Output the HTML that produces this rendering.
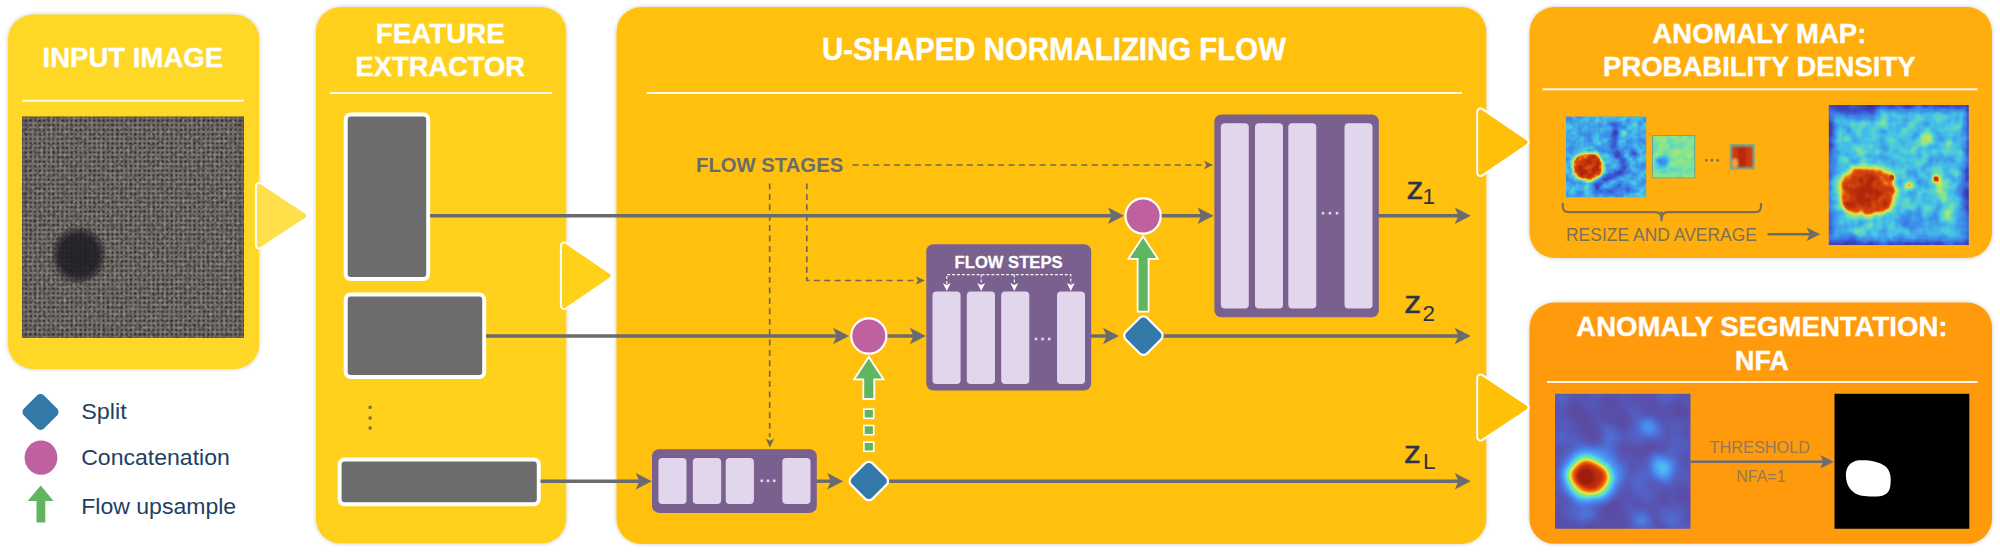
<!DOCTYPE html>
<html lang="en"><head><meta charset="utf-8"><title>U-Flow architecture</title>
<style>
html,body{margin:0;padding:0;background:#fff;}
body{width:2000px;height:553px;overflow:hidden;font-family:'Liberation Sans', Arial, Helvetica, sans-serif;}
svg{display:block;font-family:'Liberation Sans', Arial, Helvetica, sans-serif;}
</style></head><body>
<svg width="2000" height="553" viewBox="0 0 2000 553">
<defs>
<filter id="sh" x="-5%" y="-5%" width="110%" height="110%"><feGaussianBlur in="SourceAlpha" stdDeviation="2.2"/><feComponentTransfer><feFuncA type="linear" slope="0.22"/></feComponentTransfer><feMerge><feMergeNode/><feMergeNode in="SourceGraphic"/></feMerge></filter>
<filter id="b2"><feGaussianBlur stdDeviation="2"/></filter>
<filter id="b1"><feGaussianBlur stdDeviation="1"/></filter>
<filter id="b3"><feGaussianBlur stdDeviation="3.2"/></filter>
<filter id="b4"><feGaussianBlur stdDeviation="4.2"/></filter>
<filter id="b5"><feGaussianBlur stdDeviation="5"/></filter>
<filter id="b8"><feGaussianBlur stdDeviation="8"/></filter>

<filter id="jetA" x="0" y="0" width="100%" height="100%" color-interpolation-filters="sRGB">
<feTurbulence type="fractalNoise" baseFrequency="0.09" numOctaves="2" seed="3" result="n"/>
<feColorMatrix in="n" type="matrix" values="1 0 0 0 0  1 0 0 0 0  1 0 0 0 0  0 0 0 0 1" result="ng"/>
<feComposite in="SourceGraphic" in2="ng" operator="arithmetic" k1="0" k2="1" k3="0.34" k4="-0.17" result="f"/>
<feComponentTransfer in="f">
<feFuncR type="table" tableValues="0.23 0.235 0.24 0.243 0.275 0.51 0.95 0.88 0.69"/>
<feFuncG type="table" tableValues="0.20 0.275 0.45 0.58 0.78 0.90 0.88 0.30 0.157"/>
<feFuncB type="table" tableValues="0.59 0.745 0.89 0.925 0.90 0.59 0.235 0.06 0.04"/>
<feFuncA type="linear" slope="0" intercept="1"/>
</feComponentTransfer>
</filter>
<filter id="jetB" x="0" y="0" width="100%" height="100%" color-interpolation-filters="sRGB">
<feTurbulence type="fractalNoise" baseFrequency="0.13" numOctaves="2" seed="11" result="n"/>
<feColorMatrix in="n" type="matrix" values="1 0 0 0 0  1 0 0 0 0  1 0 0 0 0  0 0 0 0 1" result="ng"/>
<feComposite in="SourceGraphic" in2="ng" operator="arithmetic" k1="0" k2="1" k3="0.36" k4="-0.18" result="f"/>
<feComponentTransfer in="f">
<feFuncR type="table" tableValues="0.23 0.235 0.24 0.243 0.275 0.51 0.95 0.88 0.69"/>
<feFuncG type="table" tableValues="0.20 0.275 0.45 0.58 0.78 0.90 0.88 0.30 0.157"/>
<feFuncB type="table" tableValues="0.59 0.745 0.89 0.925 0.90 0.59 0.235 0.06 0.04"/>
<feFuncA type="linear" slope="0" intercept="1"/>
</feComponentTransfer>
</filter>
<filter id="jetC" x="0" y="0" width="100%" height="100%" color-interpolation-filters="sRGB">
<feTurbulence type="fractalNoise" baseFrequency="0.12" numOctaves="2" seed="5" result="n"/>
<feColorMatrix in="n" type="matrix" values="1 0 0 0 0  1 0 0 0 0  1 0 0 0 0  0 0 0 0 1" result="ng"/>
<feComposite in="SourceGraphic" in2="ng" operator="arithmetic" k1="0" k2="1" k3="0.22" k4="-0.11" result="f"/>
<feComponentTransfer in="f">
<feFuncR type="table" tableValues="0.23 0.235 0.24 0.243 0.275 0.51 0.95 0.88 0.69"/>
<feFuncG type="table" tableValues="0.20 0.275 0.45 0.58 0.78 0.90 0.88 0.30 0.157"/>
<feFuncB type="table" tableValues="0.59 0.745 0.89 0.925 0.90 0.59 0.235 0.06 0.04"/>
<feFuncA type="linear" slope="0" intercept="1"/>
</feComponentTransfer>
</filter>
<filter id="nfa" x="0" y="0" width="100%" height="100%" color-interpolation-filters="sRGB">
<feTurbulence type="fractalNoise" baseFrequency="0.035" numOctaves="2" seed="21" result="n"/>
<feColorMatrix in="n" type="matrix" values="1 0 0 0 0  1 0 0 0 0  1 0 0 0 0  0 0 0 0 1" result="ng"/>
<feComposite in="SourceGraphic" in2="ng" operator="arithmetic" k1="0" k2="1" k3="0.26" k4="-0.13" result="f"/>
<feComponentTransfer in="f">
<feFuncR type="table" tableValues="0.36 0.35 0.32 0.29 0.30 0.32 0.50 0.98 0.94 0.80 0.62"/>
<feFuncG type="table" tableValues="0.28 0.31 0.40 0.52 0.66 0.86 0.92 0.90 0.42 0.20 0.11"/>
<feFuncB type="table" tableValues="0.60 0.67 0.80 0.92 0.97 0.90 0.50 0.20 0.08 0.05 0.05"/>
<feFuncA type="linear" slope="0" intercept="1"/>
</feComponentTransfer>
</filter>
<pattern id="weave" width="9.1" height="9.1" patternUnits="userSpaceOnUse" patternTransform="translate(22 116.5)">
<rect width="9.1" height="9.1" fill="#7b7571"/>
<rect x="0.3" y="1.2" width="3.4" height="1.3" fill="#8f8985"/>
<rect x="4.85" y="5.75" width="3.4" height="1.3" fill="#8f8985"/>
<rect x="5.75" y="0.3" width="1.3" height="3.4" fill="#8c8682"/>
<rect x="1.2" y="4.85" width="1.3" height="3.4" fill="#8c8682"/>
<g fill="#2c2826"><rect x="3.15" y="3.15" width="1.9" height="1.9"/><rect x="7.7" y="3.15" width="1.9" height="1.9"/><rect x="-1.4" y="3.15" width="1.9" height="1.9"/><rect x="3.15" y="7.7" width="1.9" height="1.9"/><rect x="3.15" y="-1.4" width="1.9" height="1.9"/><rect x="7.7" y="7.7" width="1.9" height="1.9"/><rect x="-1.4" y="7.7" width="1.9" height="1.9"/><rect x="7.7" y="-1.4" width="1.9" height="1.9"/><rect x="-1.4" y="-1.4" width="1.9" height="1.9"/></g>
</pattern>
<filter id="fab" x="0" y="0" width="100%" height="100%" color-interpolation-filters="sRGB">
<feTurbulence type="fractalNoise" baseFrequency="0.3" numOctaves="2" seed="4" result="n"/>
<feColorMatrix in="n" type="matrix" values="1 0 0 0 0  1 0 0 0 0  1 0 0 0 0  0 0 0 0 1" result="ng"/>
<feComposite in="SourceGraphic" in2="ng" operator="arithmetic" k1="0.7" k2="0.68" k3="0.1" k4="-0.05"/>
<feGaussianBlur stdDeviation="0.5"/>
</filter>
<radialGradient id="spot"><stop offset="0" stop-color="#1c1c22" stop-opacity="0.9"/><stop offset="0.68" stop-color="#1c1c22" stop-opacity="0.85"/><stop offset="0.88" stop-color="#222" stop-opacity="0.42"/><stop offset="1" stop-color="#222" stop-opacity="0"/></radialGradient>
<clipPath id="cIn"><rect x="22" y="116.5" width="222" height="221.5"/></clipPath>
<clipPath id="cH1"><rect x="1566" y="116.6" width="80.2" height="80.6"/></clipPath>
<clipPath id="cH2"><rect x="1652" y="135.2" width="43.2" height="43"/></clipPath>
<clipPath id="cH3"><rect x="1729.6" y="144" width="25.2" height="25.6"/></clipPath>
<clipPath id="cH4"><rect x="1828.8" y="105" width="140" height="140"/></clipPath>
<clipPath id="cH5"><rect x="1555" y="393.75" width="135.5" height="135"/></clipPath>
</defs>

<g filter="url(#sh)">
<rect x="8" y="14.5" width="251.3" height="354.5" rx="25" ry="25" fill="#ffd726" />
<rect x="315.8" y="7" width="250.5" height="536.6" rx="25" ry="25" fill="#ffd11b" />
<rect x="616.5" y="7" width="869.8" height="537" rx="25" ry="25" fill="#ffc107" />
<rect x="1529.5" y="7" width="462.5" height="251" rx="25" ry="25" fill="#ffae0a" />
<rect x="1529.5" y="302.5" width="462.5" height="241.3" rx="25" ry="25" fill="#ff9a0a" />
</g>
<path d="M259.30 186.30 L303.80 215.70 L259.30 245.10 Z" fill="#fff" stroke="#fff" stroke-width="8.8" stroke-linejoin="round"/><path d="M259.30 186.30 L303.80 215.70 L259.30 245.10 Z" fill="#ffdf4a" stroke="#ffdf4a" stroke-width="4.8" stroke-linejoin="round"/>
<path d="M564.30 245.90 L608.00 275.75 L564.30 305.60 Z" fill="#fff" stroke="#fff" stroke-width="8.8" stroke-linejoin="round"/><path d="M564.30 245.90 L608.00 275.75 L564.30 305.60 Z" fill="#ffd11b" stroke="#ffd11b" stroke-width="4.8" stroke-linejoin="round"/>
<path d="M1480.60 111.90 L1525.10 142.25 L1480.60 172.60 Z" fill="#fff" stroke="#fff" stroke-width="8.8" stroke-linejoin="round"/><path d="M1480.60 111.90 L1525.10 142.25 L1480.60 172.60 Z" fill="#ffc107" stroke="#ffc107" stroke-width="4.8" stroke-linejoin="round"/>
<path d="M1480.60 377.90 L1525.10 407.50 L1480.60 437.10 Z" fill="#fff" stroke="#fff" stroke-width="8.8" stroke-linejoin="round"/><path d="M1480.60 377.90 L1525.10 407.50 L1480.60 437.10 Z" fill="#ffc107" stroke="#ffc107" stroke-width="4.8" stroke-linejoin="round"/>
<line x1="22.5" y1="100.7" x2="243.8" y2="100.7" stroke="#fff" stroke-width="1.9" opacity="0.92"/>
<line x1="330" y1="93" x2="551.8" y2="93" stroke="#fff" stroke-width="1.9" opacity="0.92"/>
<line x1="646.8" y1="93" x2="1462" y2="93" stroke="#fff" stroke-width="1.9" opacity="0.92"/>
<line x1="1542.5" y1="89.3" x2="1977.5" y2="89.3" stroke="#fff" stroke-width="1.9" opacity="0.92"/>
<line x1="1547" y1="382" x2="1977.5" y2="382" stroke="#fff" stroke-width="1.9" opacity="0.92"/>
<text x="132.8" y="67.4" font-size="28.46" font-weight="700" text-anchor="middle" fill="#fff" stroke="#fff" stroke-width="0.35" textLength="180.5" lengthAdjust="spacingAndGlyphs">INPUT IMAGE</text>
<text x="440.3" y="42.6" font-size="28.46" font-weight="700" text-anchor="middle" fill="#fff" stroke="#fff" stroke-width="0.35" textLength="129" lengthAdjust="spacingAndGlyphs">FEATURE</text>
<text x="440.3" y="76.2" font-size="28.46" font-weight="700" text-anchor="middle" fill="#fff" stroke="#fff" stroke-width="0.35" textLength="169.5" lengthAdjust="spacingAndGlyphs">EXTRACTOR</text>
<text x="1053.9" y="60" font-size="30.43" font-weight="700" text-anchor="middle" fill="#fff" stroke="#fff" stroke-width="0.35" textLength="464" lengthAdjust="spacingAndGlyphs">U-SHAPED NORMALIZING FLOW</text>
<text x="1759.4" y="43" font-size="28.46" font-weight="700" text-anchor="middle" fill="#fff" stroke="#fff" stroke-width="0.35" textLength="213.8" lengthAdjust="spacingAndGlyphs">ANOMALY MAP:</text>
<text x="1759.3" y="75.8" font-size="28.46" font-weight="700" text-anchor="middle" fill="#fff" stroke="#fff" stroke-width="0.35" textLength="312.5" lengthAdjust="spacingAndGlyphs">PROBABILITY DENSITY</text>
<text x="1761.9" y="336.3" font-size="28.46" font-weight="700" text-anchor="middle" fill="#fff" stroke="#fff" stroke-width="0.35" textLength="371.3" lengthAdjust="spacingAndGlyphs">ANOMALY SEGMENTATION:</text>
<text x="1761.9" y="369.5" font-size="28.46" font-weight="700" text-anchor="middle" fill="#fff" stroke="#fff" stroke-width="0.35" textLength="53.8" lengthAdjust="spacingAndGlyphs">NFA</text>
<g clip-path="url(#cIn)">
<g filter="url(#fab)"><rect x="22" y="116.5" width="222" height="221.5" fill="url(#weave)"/></g>
<rect x="22" y="116.5" width="222" height="221.5" fill="#2a2626" opacity="0.2"/>
<ellipse cx="78.7" cy="255.2" rx="28.6" ry="30" fill="url(#spot)"/>
<rect x="14" y="108" width="238" height="238" fill="none" stroke="#201c1c" stroke-width="14" opacity="0.35" filter="url(#b5)"/>
</g>
<rect x="26.3" y="397.8" width="28.4" height="28.4" rx="5" ry="5" fill="#337aa9" transform="rotate(45 40.5 412)"/>
<ellipse cx="41" cy="457.6" rx="16.4" ry="17.2" fill="#c0619f"/>
<path d="M40.7 485.6 L53.6 501 L45.3 501 L45.3 522.6 L36.5 522.6 L36.5 501 L27.7 501 Z" fill="#62b560"/>
<text x="81.2" y="418.8" font-size="22.9" fill="#1d4163" textLength="45.5" lengthAdjust="spacingAndGlyphs">Split</text>
<text x="81.2" y="465.1" font-size="22.9" fill="#1d4163" textLength="148.6" lengthAdjust="spacingAndGlyphs">Concatenation</text>
<text x="81.2" y="514.0" font-size="22.9" fill="#1d4163" textLength="155" lengthAdjust="spacingAndGlyphs">Flow upsample</text>
<rect x="345.7" y="114.5" width="82.5" height="164.5" rx="5" ry="5" fill="#6c6c6c" stroke="#fff" stroke-width="4"/>
<rect x="345.7" y="294.5" width="138.5" height="82.5" rx="5" ry="5" fill="#6c6c6c" stroke="#fff" stroke-width="4"/>
<rect x="339.6" y="459.5" width="199.19999999999993" height="44.80000000000001" rx="5" ry="5" fill="#6c6c6c" stroke="#fff" stroke-width="4"/>
<rect x="368.6" y="405.8" width="3" height="3" fill="#7a6a3a"/>
<rect x="368.6" y="416.5" width="3" height="3" fill="#7a6a3a"/>
<rect x="368.6" y="426.5" width="3" height="3" fill="#7a6a3a"/>
<path d="M852.5 165 H1203" stroke="#6f6a58" stroke-width="1.7" fill="none" stroke-dasharray="6 4.4"/>
<path d="M769.7 183.5 V437" stroke="#6f6a58" stroke-width="1.7" fill="none" stroke-dasharray="6 4.4"/>
<path d="M806.8 183.5 V280.5 H916" stroke="#6f6a58" stroke-width="1.7" fill="none" stroke-dasharray="6 4.4"/>
<path d="M1213 165 L1204 160.75 L1206.2 165 L1204 169.25 Z" fill="#6f6a58"/>
<path d="M924.8 280.5 L915.8 276.25 L918.0 280.5 L915.8 284.75 Z" fill="#6f6a58"/>
<path d="M769.9 447.6 L765.65 438.6 L769.9 440.8 L774.15 438.6 Z" fill="#6f6a58"/>
<text x="696" y="171.8" font-size="20.2" font-weight="700" fill="#6a6b6e" textLength="147.2" lengthAdjust="spacingAndGlyphs">FLOW STAGES</text>
<line x1="430" y1="215.7" x2="1112.6" y2="215.7" stroke="#6a6b6e" stroke-width="3.4"/><path d="M1124 215.7 L1108 207.5 L1111.6 215.7 L1108 223.89999999999998 Z" fill="#6a6b6e"/>
<line x1="1161" y1="215.7" x2="1202.1999999999998" y2="215.7" stroke="#6a6b6e" stroke-width="3.4"/><path d="M1213.6 215.7 L1197.6 207.5 L1201.1999999999998 215.7 L1197.6 223.89999999999998 Z" fill="#6a6b6e"/>
<line x1="1378" y1="215.7" x2="1459.3999999999999" y2="215.7" stroke="#6a6b6e" stroke-width="3.4"/><path d="M1470.8 215.7 L1454.8 207.5 L1458.3999999999999 215.7 L1454.8 223.89999999999998 Z" fill="#6a6b6e"/>
<line x1="486" y1="336" x2="837.6" y2="336" stroke="#6a6b6e" stroke-width="3.4"/><path d="M849 336 L833 327.8 L836.6 336 L833 344.2 Z" fill="#6a6b6e"/>
<line x1="887" y1="336" x2="914.4" y2="336" stroke="#6a6b6e" stroke-width="3.4"/><path d="M925.8 336 L909.8 327.8 L913.4 336 L909.8 344.2 Z" fill="#6a6b6e"/>
<line x1="1090" y1="336" x2="1107.6" y2="336" stroke="#6a6b6e" stroke-width="3.4"/><path d="M1119 336 L1103 327.8 L1106.6 336 L1103 344.2 Z" fill="#6a6b6e"/>
<line x1="1163" y1="336" x2="1459.3999999999999" y2="336" stroke="#6a6b6e" stroke-width="3.4"/><path d="M1470.8 336 L1454.8 327.8 L1458.3999999999999 336 L1454.8 344.2 Z" fill="#6a6b6e"/>
<line x1="540.5" y1="481.2" x2="640.4" y2="481.2" stroke="#6a6b6e" stroke-width="3.4"/><path d="M651.8 481.2 L635.8 473.0 L639.4 481.2 L635.8 489.4 Z" fill="#6a6b6e"/>
<line x1="816" y1="481.2" x2="831.8000000000001" y2="481.2" stroke="#6a6b6e" stroke-width="3.4"/><path d="M843.2 481.2 L827.2 473.0 L830.8000000000001 481.2 L827.2 489.4 Z" fill="#6a6b6e"/>
<line x1="889" y1="481.2" x2="1459.3999999999999" y2="481.2" stroke="#6a6b6e" stroke-width="3.4"/><path d="M1470.8 481.2 L1454.8 473.0 L1458.3999999999999 481.2 L1454.8 489.4 Z" fill="#6a6b6e"/>
<rect x="1214.4" y="114.5" width="164.4" height="202.8" rx="7" ry="7" fill="#79608f" /><rect x="1220.8" y="123.2" width="28.0" height="185.3" rx="4" ry="4" fill="#e2d6ec" /><rect x="1255" y="123.2" width="28" height="185.3" rx="4" ry="4" fill="#e2d6ec" /><rect x="1288.3" y="123.2" width="28.0" height="185.3" rx="4" ry="4" fill="#e2d6ec" /><rect x="1344.5" y="123.2" width="28.0" height="185.3" rx="4" ry="4" fill="#e2d6ec" /><rect x="1321.7" y="211.89999999999998" width="2.6" height="2.6" fill="#e2d6ec"/><rect x="1328.7" y="211.89999999999998" width="2.6" height="2.6" fill="#e2d6ec"/><rect x="1335.7" y="211.89999999999998" width="2.6" height="2.6" fill="#e2d6ec"/>
<rect x="926.3" y="244.3" width="164.9" height="146.2" rx="7" ry="7" fill="#79608f" /><rect x="932.5" y="291.5" width="28.1" height="92.5" rx="4" ry="4" fill="#e2d6ec" /><rect x="966.8" y="291.5" width="28.2" height="92.5" rx="4" ry="4" fill="#e2d6ec" /><rect x="1001.2" y="291.5" width="28.1" height="92.5" rx="4" ry="4" fill="#e2d6ec" /><rect x="1057" y="291.5" width="28" height="92.5" rx="4" ry="4" fill="#e2d6ec" /><rect x="1034.7" y="337.7" width="2.6" height="2.6" fill="#e2d6ec"/><rect x="1041.3" y="337.7" width="2.6" height="2.6" fill="#e2d6ec"/><rect x="1047.9" y="337.7" width="2.6" height="2.6" fill="#e2d6ec"/>
<rect x="652" y="449.2" width="164.8" height="63.7" rx="7" ry="7" fill="#79608f" /><rect x="658.4" y="458" width="28.1" height="46" rx="4" ry="4" fill="#e2d6ec" /><rect x="692.8" y="458" width="28.4" height="46" rx="4" ry="4" fill="#e2d6ec" /><rect x="725.7" y="458" width="28.2" height="46" rx="4" ry="4" fill="#e2d6ec" /><rect x="782.3" y="458" width="28.2" height="46" rx="4" ry="4" fill="#e2d6ec" /><rect x="760.5" y="479.5" width="2.6" height="2.6" fill="#e2d6ec"/><rect x="766.7" y="479.5" width="2.6" height="2.6" fill="#e2d6ec"/><rect x="772.9000000000001" y="479.5" width="2.6" height="2.6" fill="#e2d6ec"/>
<text x="1008.6" y="267.6" font-size="16.8" font-weight="700" fill="#fff" stroke="#fff" stroke-width="0.3" text-anchor="middle" textLength="108" lengthAdjust="spacingAndGlyphs">FLOW STEPS</text>
<path d="M946.8 284 V274.6 H1070.8 V284" stroke="#fff" stroke-width="1.15" fill="none" stroke-dasharray="3 1.9" opacity="0.95"/>
<path d="M981.2 274.6 V284 M1014.3 274.6 V284" stroke="#fff" stroke-width="1.15" fill="none" stroke-dasharray="3 1.9" opacity="0.95"/>
<path d="M946.8 291 L942.9 283 L946.8 285 L950.6999999999999 283 Z" fill="#fff"/>
<path d="M981.2 291 L977.3000000000001 283 L981.2 285 L985.1 283 Z" fill="#fff"/>
<path d="M1014.3 291 L1010.4 283 L1014.3 285 L1018.1999999999999 283 Z" fill="#fff"/>
<path d="M1070.8 291 L1066.8999999999999 283 L1070.8 285 L1074.7 283 Z" fill="#fff"/>
<circle cx="1143.1" cy="216" r="17.6" fill="#c0619f" stroke="#fff" stroke-width="2.2"/>
<circle cx="868.8" cy="336" r="17.6" fill="#c0619f" stroke="#fff" stroke-width="2.2"/>
<rect x="1128.2" y="320.40000000000003" width="30.4" height="30.4" rx="5.5" ry="5.5" fill="#337aa9" stroke="#fff" stroke-width="2.2" transform="rotate(45 1143.4 335.6)"/>
<rect x="853.5999999999999" y="465.8" width="30.4" height="30.4" rx="5.5" ry="5.5" fill="#337aa9" stroke="#fff" stroke-width="2.2" transform="rotate(45 868.8 481)"/>
<path d="M1143.1 236.4 L1157.85 258.8 L1148.6 258.8 L1148.6 311.6 L1137.6 311.6 L1137.6 258.8 L1128.35 258.8 Z" fill="#62b560" stroke="#fff" stroke-width="1.8" stroke-linejoin="miter"/>
<path d="M868.8 357 L883.55 379.4 L874.3 379.4 L874.3 399 L863.3 399 L863.3 379.4 L854.05 379.4 Z" fill="#62b560" stroke="#fff" stroke-width="1.8" stroke-linejoin="miter"/>
<rect x="863.9" y="409.09999999999997" width="9.8" height="9.2" fill="#62b560" stroke="#fff" stroke-width="1.6"/>
<rect x="863.9" y="425.5" width="9.8" height="9.2" fill="#62b560" stroke="#fff" stroke-width="1.6"/>
<rect x="863.9" y="442.09999999999997" width="9.8" height="9.2" fill="#62b560" stroke="#fff" stroke-width="1.6"/>
<text x="1406.6" y="199.2" font-size="31" fill="#2b3448" stroke="#2b3448" stroke-width="0.4" textLength="17" lengthAdjust="spacingAndGlyphs">z</text><text x="1422.6" y="203.6" font-size="22.5" fill="#2b3448">1</text>
<text x="1404.2" y="313.3" font-size="31" fill="#2b3448" stroke="#2b3448" stroke-width="0.4" textLength="17" lengthAdjust="spacingAndGlyphs">z</text><text x="1422.4" y="321" font-size="22.5" fill="#2b3448">2</text>
<text x="1404" y="463" font-size="31" fill="#2b3448" stroke="#2b3448" stroke-width="0.4" textLength="17" lengthAdjust="spacingAndGlyphs">z</text><text x="1423" y="469.4" font-size="22.5" fill="#2b3448">L</text>
<g clip-path="url(#cH1)"><g filter="url(#jetB)">
<rect x="1560" y="110" width="95" height="95" fill="#6c6c6c"/>
<g filter="url(#b2)"><path d="M1612 122 q6 8 2 18 q-4 10 6 16 q8 6 2 14 q-6 8 -14 6 q-8 4 -12 12" fill="none" stroke="#1e1e1e" stroke-width="6"/><path d="M1630 150 q6 4 4 12 M1596 190 q10 4 22 -2 q8 -2 12 4" fill="none" stroke="#222" stroke-width="5"/><circle cx="1624" cy="133" r="3" fill="#a8a8a8"/><circle cx="1634" cy="161" r="2.6" fill="#aaa"/><circle cx="1578" cy="134" r="2" fill="#999"/><circle cx="1609" cy="162" r="2" fill="#b0b0b0"/></g>
<g filter="url(#b2)"><path d="M1573 167 L1575.5 159 L1581 155 L1589 153.6 L1597 155.5 L1601.6 161 L1602.6 168 L1600 175.5 L1593 179.4 L1584 179.6 L1576.5 176 Z" fill="#f4f4f4" stroke="#f4f4f4" stroke-width="2.4" stroke-linejoin="round"/></g>
</g></g>
<g clip-path="url(#cH2)"><g filter="url(#jetC)">
<rect x="1648" y="131" width="52" height="52" fill="#9e9e9e"/>
<g filter="url(#b2)"><ellipse cx="1662.6" cy="161.8" rx="6.5" ry="5.2" fill="#505050"/></g>
</g></g>
<rect x="1652.4" y="135.6" width="42.4" height="42.2" fill="none" stroke="#6f8f80" stroke-width="0.9" opacity="0.8"/>
<rect x="1729.6" y="144" width="25.2" height="25.6" fill="#7fae86"/>
<g clip-path="url(#cH3)"><g filter="url(#b1)"><rect x="1732" y="146.4" width="20.6" height="20.8" fill="#cc3a0c"/><rect x="1738" y="147" width="8" height="20" fill="#b42c0a"/><ellipse cx="1735" cy="163" rx="3" ry="4.5" fill="#f6a046"/></g></g>
<rect x="1705.1000000000001" y="159.2" width="2.2" height="2.2" fill="#6e6240"/>
<rect x="1710.8000000000002" y="159.2" width="2.2" height="2.2" fill="#6e6240"/>
<rect x="1716.6000000000001" y="159.2" width="2.2" height="2.2" fill="#6e6240"/>
<path d="M1562.8 203.8 V206.5 Q1562.8 212.2 1569 212.2 H1655.5 Q1661.6 212.2 1661.6 219.5 Q1661.6 212.2 1667.7 212.2 H1754.8 Q1761 212.2 1761 206.5 V203.8" fill="none" stroke="#7c7157" stroke-width="2.2" stroke-linecap="round"/>
<path d="M1661.6 212.2 V220.4" stroke="#7c7157" stroke-width="2.2" stroke-linecap="round"/>
<text x="1566" y="240.8" font-size="17.6" fill="#7c7157" textLength="191" lengthAdjust="spacingAndGlyphs">RESIZE AND AVERAGE</text>
<line x1="1767.5" y1="234.3" x2="1810.7" y2="234.3" stroke="#6d6c6a" stroke-width="2.6"/><path d="M1820.2 234.3 L1806.7 227.55 L1809.7 234.3 L1806.7 241.05 Z" fill="#6d6c6a"/>
<g clip-path="url(#cH4)"><g filter="url(#jetA)">
<rect x="1820" y="98" width="158" height="156" fill="#7a7a7a"/>
<g filter="url(#b3)"><path d="M1826 103 H1972 V247 H1826 Z" fill="none" stroke="#141414" stroke-width="12"/><path d="M1835 111 h40 M1900 243 h30 M1836 240 h22 M1966 170 v40 M1831 120 v30" stroke="#1a1a1a" stroke-width="7" fill="none"/></g>
<g filter="url(#b5)"><ellipse cx="1890" cy="142" rx="42" ry="18" fill="#7c7c7c"/><ellipse cx="1942" cy="196" rx="10" ry="24" fill="#868686" transform="rotate(-20 1942 196)"/><ellipse cx="1866" cy="193" rx="36" ry="32" fill="#808080"/><ellipse cx="1915" cy="222" rx="22" ry="9" fill="#5c5c5c"/></g>
<g filter="url(#b2)"><circle cx="1925.7" cy="139.9" r="6.4" fill="#b4b4b4"/><circle cx="1847.6" cy="137.8" r="3.4" fill="#aaa"/><circle cx="1881" cy="124" r="3.2" fill="#a2a2a2"/><circle cx="1862" cy="125" r="2.6" fill="#9a9a9a"/><circle cx="1908.4" cy="186.1" r="3.4" fill="#dcdcdc"/><circle cx="1935.9" cy="178.9" r="3.4" fill="#f4f4f4"/><ellipse cx="1943" cy="195" rx="4.2" ry="13" fill="#a4a4a4" transform="rotate(-22 1943 195)"/><circle cx="1948" cy="143" r="3" fill="#a0a0a0"/><circle cx="1856" cy="232" r="3" fill="#a0a0a0"/><circle cx="1912" cy="125" r="2.6" fill="#a0a0a0"/><circle cx="1947" cy="212" r="3" fill="#a8a8a8"/></g>
<g filter="url(#b3)"><path d="M1840.4 190.4 L1843.6 177.3 L1851.7 170.1 L1866.3 168.2 L1881 170.1 L1890.7 177.3 L1895 190.4 L1892.4 203.4 L1884.2 212.5 L1868 214.8 L1851.7 213.1 L1842.6 203.4 Z" fill="#efefef" stroke="#efefef" stroke-width="3" stroke-linejoin="round"/></g>
<g filter="url(#b3)"><ellipse cx="1866" cy="192" rx="10" ry="12" fill="#fff"/></g><g filter="url(#b1)"><circle cx="1891.9" cy="177.5" r="2.6" fill="#fff"/><circle cx="1935.9" cy="178.9" r="2" fill="#fff"/></g>
</g></g>
<g clip-path="url(#cH5)"><g filter="url(#nfa)">
<rect x="1548" y="386" width="150" height="150" fill="#202020"/>
<g filter="url(#b5)"><circle cx="1649.8" cy="427" r="9" fill="#5e5e5e"/><path d="M1656 455 L1672 462 L1668 484 L1654 474 Z" fill="#626262" stroke="#626262" stroke-width="4"/><circle cx="1580" cy="516" r="9" fill="#404040"/><circle cx="1640" cy="520" r="10" fill="#444"/><circle cx="1612" cy="440" r="10" fill="#383838"/><ellipse cx="1592" cy="476" rx="32" ry="28" fill="#585858"/></g>
<g filter="url(#b5)"><ellipse cx="1589.5" cy="477.4" rx="25" ry="21" fill="#7a7a7a" transform="rotate(18 1589.5 477.4)"/></g>
<g filter="url(#b4)"><ellipse cx="1589.2" cy="477.2" rx="20" ry="16.4" fill="#e6e6e6" transform="rotate(20 1589.2 477.2)"/></g>
<g filter="url(#b2)"><ellipse cx="1585" cy="477" rx="6" ry="7" fill="#fff" transform="rotate(30 1585 477)"/></g>
</g></g>
<rect x="1834.5" y="393.75" width="134.8" height="135" fill="#000"/>
<path d="M1846 477 C1845 468 1850 461 1859 460.3 C1868 459.6 1879 461.5 1885 466 C1890.5 470 1891.5 478 1890.3 486 C1889.5 493 1885 496.2 1877 496.4 C1868 496.6 1859 496.5 1854 492.5 C1849 488.5 1846.5 484 1846 477 Z" fill="#fff"/>
<line x1="1690.5" y1="461.8" x2="1824.3" y2="461.8" stroke="#6e6c70" stroke-width="2.6"/><path d="M1833.8 461.8 L1820.3 455.05 L1823.3 461.8 L1820.3 468.55 Z" fill="#6e6c70"/>
<text x="1759.8" y="453" font-size="16.4" fill="#907a58" text-anchor="middle" textLength="100.5" lengthAdjust="spacingAndGlyphs">THRESHOLD</text>
<text x="1760.9" y="482" font-size="16" fill="#907a58" text-anchor="middle" textLength="49.3" lengthAdjust="spacingAndGlyphs">NFA=1</text>
</svg>
</body></html>
